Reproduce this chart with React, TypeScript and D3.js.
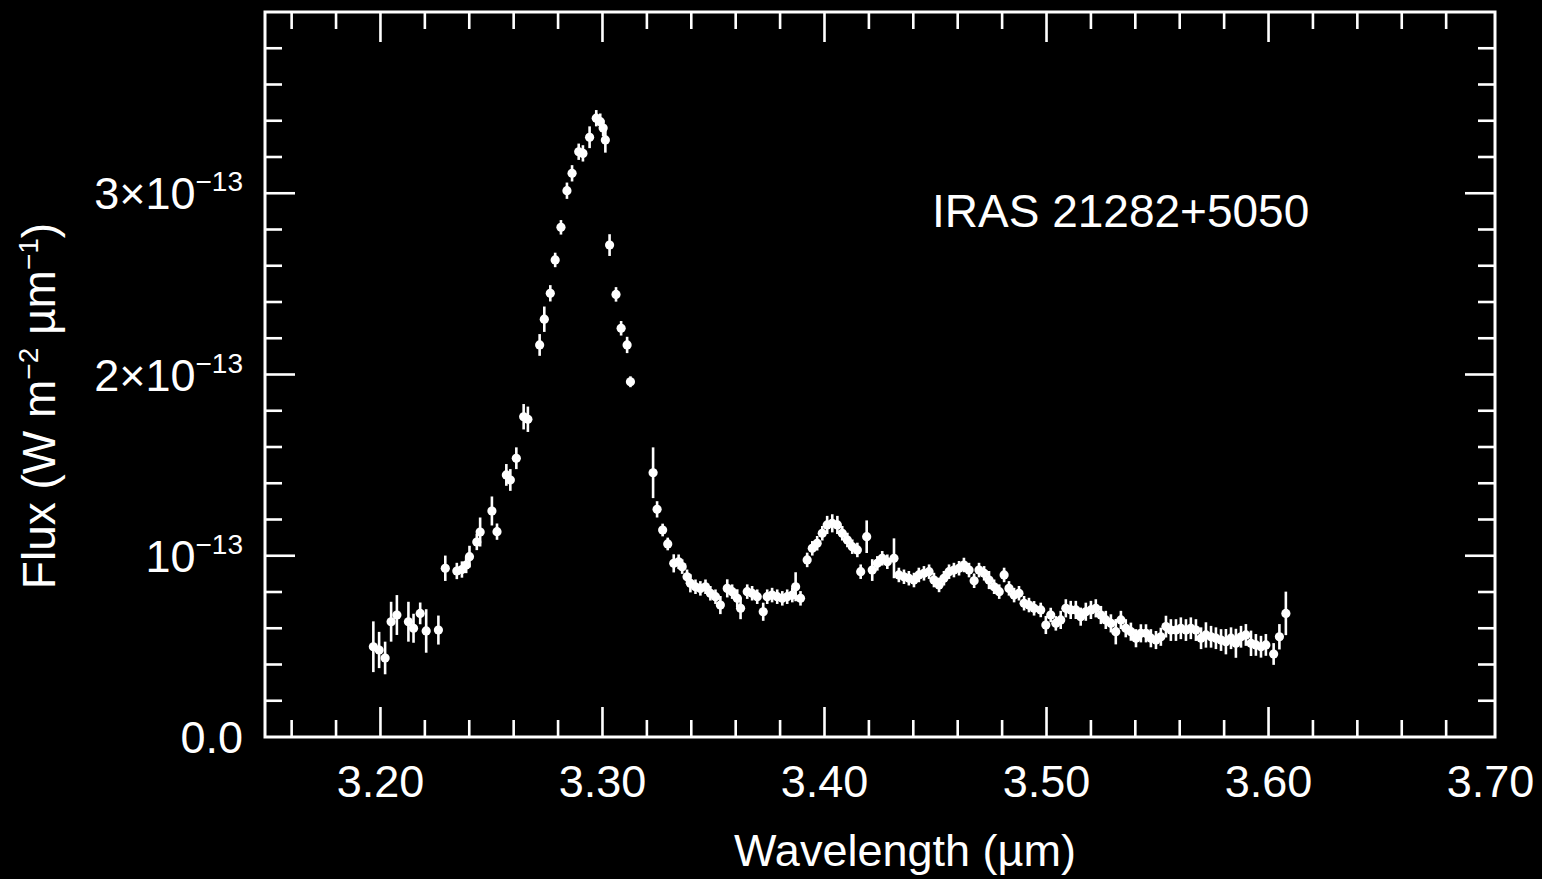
import React from "react";
import * as d3 from "d3";

// Spectrum of IRAS 21282+5050 in the 3 µm region.
// Flux values and 1-sigma errors are in units of 1e-13 W m^-2 µm^-1.
const wavelength = [
  3.1968, 3.1994, 3.2021, 3.2048, 3.2074, 3.2126, 3.2149, 3.2179, 3.2206, 3.2261,
  3.2292, 3.2344, 3.2367, 3.2386, 3.2401, 3.2434, 3.2449, 3.2502, 3.2525, 3.2567,
  3.2585, 3.2612, 3.2645, 3.2664, 3.2717, 3.2738, 3.2765, 3.2787, 3.2813, 3.2840,
  3.2863, 3.2893, 3.2912, 3.2942, 3.2972, 3.2990, 3.3003, 3.3013, 3.3032, 3.3061,
  3.3084, 3.3111, 3.3126, 3.3228, 3.3246, 3.3271, 3.3294,
  3.3321, 3.3343, 3.3359, 3.3381, 3.3396, 3.3419, 3.3441, 3.3464, 3.3486, 3.3509, 3.3531,
  3.3562, 3.3584, 3.3607, 3.3622, 3.3652, 3.3674, 3.3697, 3.3724, 3.3742, 3.3764, 3.3787,
  3.3810, 3.3832, 3.3855, 3.3870, 3.3892, 3.3922, 3.3945, 3.3967, 3.3990, 3.4012, 3.4035,
  3.4058, 3.4080, 3.4103, 3.4125, 3.4148, 3.4163, 3.4190, 3.4215, 3.4238, 3.4260, 3.4283,
  3.4313, 3.4335, 3.4358, 3.4380, 3.4403, 3.4425, 3.4448, 3.4471, 3.4493, 3.4516, 3.4538,
  3.4561, 3.4583, 3.4606, 3.4628, 3.4651, 3.4674, 3.4696, 3.4719, 3.4741, 3.4764, 3.4787,
  3.4809, 3.4831, 3.4854, 3.4876, 3.4899, 3.4921, 3.4944, 3.4974, 3.4997, 3.5019, 3.5042,
  3.5064, 3.5087, 3.5109, 3.5132, 3.5154, 3.5177, 3.5200, 3.5222, 3.5245, 3.5267, 3.5290,
  3.5312, 3.5335, 3.5357, 3.5380, 3.5403, 3.5425, 3.5448, 3.5470, 3.5493, 3.5515, 3.5538,
  3.5560, 3.5583, 3.5605, 3.5628, 3.5650, 3.5673, 3.5696, 3.5718, 3.5741, 3.5763, 3.5786,
  3.5808, 3.5831, 3.5853, 3.5876, 3.5898, 3.5921, 3.5943, 3.5966, 3.5988, 3.6023, 3.6049, 3.6078,
];

const flux = [
  0.498, 0.480, 0.436, 0.636, 0.673, 0.636, 0.600, 0.682, 0.585, 0.590,
  0.931, 0.916, 0.924, 0.949, 0.995, 1.076, 1.131, 1.247, 1.133, 1.446,
  1.418, 1.538, 1.767, 1.753, 2.163, 2.305, 2.448, 2.632, 2.812, 3.014,
  3.110, 3.229, 3.220, 3.309, 3.414, 3.395, 3.360, 3.294, 2.714, 2.442,
  2.255, 2.163, 1.960, 1.458, 1.256, 1.142, 1.065,
  0.958, 0.967, 0.940, 0.884, 0.848, 0.829, 0.820, 0.829, 0.793, 0.774, 0.728,
  0.820, 0.802, 0.765, 0.710, 0.802, 0.793, 0.774, 0.691, 0.774, 0.783, 0.774,
  0.765, 0.774, 0.783, 0.829, 0.765, 0.977, 1.041, 1.069, 1.124, 1.170, 1.179,
  1.170, 1.124, 1.087, 1.050, 1.032, 0.912, 1.105, 0.921, 0.958, 0.986, 0.967,
  0.986, 0.894, 0.884, 0.876, 0.866, 0.894, 0.903, 0.912, 0.866, 0.839, 0.876,
  0.912, 0.921, 0.931, 0.949, 0.921, 0.862, 0.921, 0.903, 0.866, 0.829, 0.802,
  0.894, 0.820, 0.783, 0.793, 0.738, 0.728, 0.710, 0.701, 0.618, 0.673, 0.627,
  0.646, 0.710, 0.701, 0.701, 0.664, 0.691, 0.701, 0.710, 0.673, 0.646, 0.627,
  0.581, 0.646, 0.600, 0.581, 0.545, 0.572, 0.572, 0.545, 0.535, 0.553, 0.609,
  0.590, 0.590, 0.600, 0.590, 0.600, 0.590, 0.545, 0.563, 0.553, 0.545, 0.535,
  0.526, 0.545, 0.517, 0.553, 0.563, 0.517, 0.508, 0.498, 0.508, 0.458, 0.553, 0.682,
];

const fluxErr = [
  0.14, 0.10, 0.09, 0.11, 0.11, 0.11, 0.08, 0.06, 0.12, 0.08,
  0.07, 0.045, 0.045, 0.045, 0.06, 0.045, 0.08, 0.08, 0.045, 0.06,
  0.06, 0.06, 0.07, 0.07, 0.06, 0.07, 0.045, 0.04, 0.04, 0.045,
  0.045, 0.045, 0.045, 0.06, 0.045, 0.045, 0.045, 0.07, 0.06, 0.04,
  0.04, 0.045, 0.03, 0.14, 0.045, 0.035, 0.035,
  0.05, 0.04, 0.04, 0.04, 0.05, 0.04, 0.04, 0.04, 0.04, 0.04, 0.05,
  0.05, 0.04, 0.05, 0.06, 0.04, 0.04, 0.04, 0.05, 0.04, 0.04, 0.04,
  0.04, 0.04, 0.04, 0.08, 0.04, 0.04, 0.04, 0.04, 0.04, 0.05, 0.05,
  0.05, 0.04, 0.04, 0.04, 0.04, 0.04, 0.09, 0.06, 0.04, 0.04, 0.04,
  0.11, 0.04, 0.04, 0.04, 0.04, 0.04, 0.04, 0.04, 0.04, 0.04, 0.04,
  0.04, 0.04, 0.04, 0.04, 0.04, 0.04, 0.04, 0.04, 0.05, 0.04, 0.04,
  0.04, 0.04, 0.04, 0.04, 0.04, 0.04, 0.04, 0.04, 0.05, 0.04, 0.04,
  0.05, 0.05, 0.05, 0.05, 0.05, 0.05, 0.05, 0.05, 0.05, 0.05, 0.05,
  0.07, 0.05, 0.05, 0.05, 0.05, 0.05, 0.05, 0.05, 0.05, 0.05, 0.06,
  0.06, 0.06, 0.06, 0.06, 0.06, 0.06, 0.06, 0.07, 0.06, 0.06, 0.06,
  0.07, 0.06, 0.08, 0.06, 0.06, 0.07, 0.06, 0.06, 0.06, 0.06, 0.07, 0.12,
];

// Axis ticks and their labels
const xMajorTicks = [3.2, 3.3, 3.4, 3.5, 3.6, 3.7];
const xTickLabels = ["3.20", "3.30", "3.40", "3.50", "3.60", "3.70"];
const yMajorTicks = [0, 1, 2, 3];
const yTickMantissa = ["0.0", "10", "2\u00d710", "3\u00d710"];
const yTickExponent = ["", "\u221213", "\u221213", "\u221213"];

const WIDTH = 1542;
const HEIGHT = 879;
const LEFT = 265;
const RIGHT = 1495;
const TOP = 12;
const BOTTOM = 737;
const FONT = "'Liberation Sans', Arial, Helvetica, sans-serif";
const FS = 45;
const SUP = 28;

export default function App() {
  const x = d3.scaleLinear().domain([3.148, 3.702]).range([LEFT, RIGHT]);
  const y = d3.scaleLinear().domain([0, 4]).range([BOTTOM, TOP]);

  // minor ticks every 0.02 µm, every 0.2e-13 in flux
  const xMinor = d3
    .range(158, 185)
    .map((i) => i * 0.02)
    .filter((v) => Math.abs(v * 10 - Math.round(v * 10)) > 1e-6);
  const yMinor = d3
    .range(1, 20)
    .map((i) => i * 0.2)
    .filter((v) => Math.abs(v - Math.round(v)) > 1e-6);
  const yMajorInner = [1, 2, 3];

  const MAJ = 30;
  const MIN = 17;
  const tickStroke = { stroke: "#fff", strokeWidth: 2.6 };

  const points = wavelength.map((w, i) => ({ w, f: flux[i], e: fluxErr[i] }));

  return (
    <svg
      width={WIDTH}
      height={HEIGHT}
      style={{ position: "absolute", left: 0, top: 0, display: "block", background: "#000" }}
    >
      <rect x={0} y={0} width={WIDTH} height={HEIGHT} fill="#000" />

      {/* x ticks, bottom and top */}
      {xMinor.map((v, i) => (
        <g key={"xm" + i}>
          <line x1={x(v)} x2={x(v)} y1={BOTTOM} y2={BOTTOM - MIN} {...tickStroke} />
          <line x1={x(v)} x2={x(v)} y1={TOP} y2={TOP + MIN} {...tickStroke} />
        </g>
      ))}
      {xMajorTicks.map((v, i) => (
        <g key={"xM" + i}>
          {x(v) < RIGHT - 8 && (
            <>
              <line x1={x(v)} x2={x(v)} y1={BOTTOM} y2={BOTTOM - MAJ} {...tickStroke} />
              <line x1={x(v)} x2={x(v)} y1={TOP} y2={TOP + MAJ} {...tickStroke} />
            </>
          )}
          <text x={x(v)} y={797} fill="#fff" fontFamily={FONT} fontSize={FS} textAnchor="middle">
            {xTickLabels[i]}
          </text>
        </g>
      ))}

      {/* y ticks, left and right */}
      {yMinor.map((v, i) => (
        <g key={"ym" + i}>
          <line x1={LEFT} x2={LEFT + MIN} y1={y(v)} y2={y(v)} {...tickStroke} />
          <line x1={RIGHT} x2={RIGHT - MIN} y1={y(v)} y2={y(v)} {...tickStroke} />
        </g>
      ))}
      {yMajorInner.map((v, i) => (
        <g key={"yM" + i}>
          <line x1={LEFT} x2={LEFT + MAJ} y1={y(v)} y2={y(v)} {...tickStroke} />
          <line x1={RIGHT} x2={RIGHT - MAJ} y1={y(v)} y2={y(v)} {...tickStroke} />
        </g>
      ))}
      {yMajorTicks.map((v, i) => (
        <text
          key={"yl" + i}
          x={243}
          y={y(v) + 16}
          fill="#fff"
          fontFamily={FONT}
          fontSize={FS}
          textAnchor="end"
        >
          {yTickMantissa[i]}
          {yTickExponent[i] && (
            <tspan dy={-18} fontSize={SUP}>
              {yTickExponent[i]}
            </tspan>
          )}
        </text>
      ))}

      {/* frame */}
      <rect
        x={LEFT}
        y={TOP}
        width={RIGHT - LEFT}
        height={BOTTOM - TOP}
        fill="none"
        stroke="#fff"
        strokeWidth={3}
      />

      {/* data with error bars */}
      <g>
        {points.map((p, i) => (
          <g key={"p" + i}>
            <line
              x1={x(p.w)}
              x2={x(p.w)}
              y1={y(p.f - p.e)}
              y2={y(p.f + p.e)}
              stroke="#fff"
              strokeWidth={2.6}
            />
            <circle cx={x(p.w)} cy={y(p.f)} r={4.6} fill="#fff" />
          </g>
        ))}
      </g>

      {/* object name */}
      <text x={932} y={227} fill="#fff" fontFamily={FONT} fontSize={46}>
        IRAS 21282+5050
      </text>

      {/* axis titles */}
      <text x={905} y={866} fill="#fff" fontFamily={FONT} fontSize={FS} textAnchor="middle">
        Wavelength (µm)
      </text>
      <text
        transform="translate(55,406) rotate(-90)"
        fill="#fff"
        fontFamily={FONT}
        fontSize={46}
        textAnchor="middle"
      >
        Flux (W m
        <tspan dy={-17} fontSize={SUP}>
          {"\u22122"}
        </tspan>
        <tspan dy={17}>{" µm"}</tspan>
        <tspan dy={-17} fontSize={SUP}>
          {"\u22121"}
        </tspan>
        <tspan dy={17}>)</tspan>
      </text>
    </svg>
  );
}
